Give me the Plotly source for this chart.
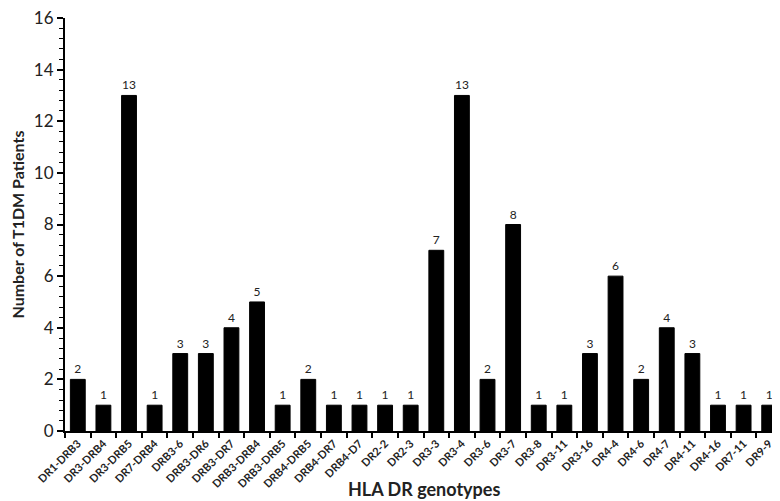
import plotly.graph_objects as go

genotypes = ['DR1-DRB3', 'DR3-DRB4', 'DR3-DRB5', 'DR7-DRB4', 'DRB3-6', 'DRB3-DR6',
             'DRB3-DR7', 'DRB3-DRB4', 'DRB3-DRB5', 'DRB4-DRB5', 'DRB4-DR7', 'DRB4-D7',
             'DR2-2', 'DR2-3', 'DR3-3', 'DR3-4', 'DR3-6', 'DR3-7', 'DR3-8', 'DR3-11',
             'DR3-16', 'DR4-4', 'DR4-6', 'DR4-7', 'DR4-11', 'DR4-16', 'DR7-11', 'DR9-9']
patients = [2, 1, 13, 1, 3, 3, 4, 5, 1, 2, 1, 1, 1, 1, 7, 13, 2, 8, 1, 1, 3, 6, 2, 4, 3, 1, 1, 1]

font_family = "Lato, 'Open Sans', sans-serif"

fig = go.Figure(go.Bar(
    x=genotypes, y=patients,
    marker=dict(color='black', line=dict(color='black', width=1)),
    text=patients, textposition='outside', cliponaxis=False,
    textfont=dict(size=12, color='#222', family=font_family),
    width=0.58,
))

fig.update_layout(
    width=780, height=501,
    margin=dict(l=57, r=6, t=10, b=78),
    plot_bgcolor='white', paper_bgcolor='white',
    font=dict(family=font_family, color='#222'),
    showlegend=False,
)
fig.update_xaxes(
    showline=True, linecolor='black', linewidth=2, automargin=False,
    ticks='outside', tickson='boundaries', ticklen=5, tickcolor='black', tickwidth=1.5,
    tickangle=-45, tickfont=dict(size=11, color='#222', family=font_family),
    tickprefix='<b>', ticksuffix='</b>',
)
fig.update_yaxes(
    range=[0, 16], tickvals=[0, 2, 4, 6, 8, 10, 12, 14, 16],
    showgrid=False, zeroline=False, automargin=False,
    ticklabeloverflow='allow',
    showline=True, linecolor='black', linewidth=2,
    ticks='outside', ticklen=6, tickcolor='black', tickwidth=1.5,
    tickfont=dict(size=17, color='#222', family=font_family),
    tickprefix='<b>', ticksuffix='</b>',
    minor=dict(dtick=0.4, ticks='outside', ticklen=4, tickcolor='black', tickwidth=1),
    title=dict(text='<b>Number of T1DM Patients</b>', font=dict(size=16), standoff=8),
)
fig.add_annotation(
    text='<b>HLA DR genotypes</b>', xref='paper', yref='paper',
    x=0.5, y=-0.14, yanchor='middle', showarrow=False,
    font=dict(size=18, color='#222', family=font_family),
)

fig.write_html("out.html")
